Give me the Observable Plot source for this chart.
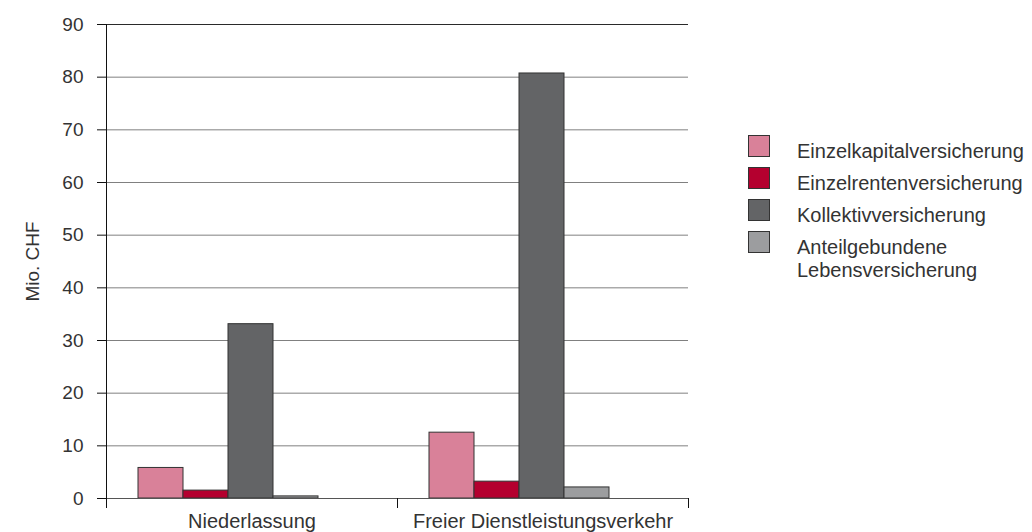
<!DOCTYPE html>
<html>
<head>
<meta charset="utf-8">
<script src="https://cdn.jsdelivr.net/npm/d3@7"></script>
<script src="https://cdn.jsdelivr.net/npm/@observablehq/plot@0.6"></script>
<style>
  body { margin: 0; background: #fff; font-family: "Liberation Sans", Arial, sans-serif; }
  #wrap { position: relative; width: 1032px; height: 532px; overflow: hidden; }
  #chart { position: absolute; left: 0; top: 0; }
  #legend { position: absolute; left: 748px; top: 135px; font-size: 20px; color: #333; }
  .row { position: relative; height: 32px; }
  .sw { position: absolute; left: 0; top: 0; width: 22px; height: 22px; box-sizing: border-box; border: 1px solid #333; }
  .lab { position: absolute; left: 49px; top: 5px; line-height: 23px; white-space: pre; }
</style>
</head>
<body>
<div id="wrap">
  <div id="chart"></div>
  <div id="legend"></div>
</div>
<script>
const categories = ["Niederlassung", "Freier Dienstleistungsverkehr"];
const series = ["Einzelkapitalversicherung", "Einzelrentenversicherung", "Kollektivversicherung", "Anteilgebundene Lebensversicherung"];
const legendLabels = ["Einzelkapitalversicherung", "Einzelrentenversicherung", "Kollektivversicherung", "Anteilgebundene\nLebensversicherung"];
const niederlassung = [5.8, 1.5, 33.1, 0.4];
const freierDienstleistungsverkehr = [12.5, 3.2, 80.7, 2.1];
const colors = ["#d98199", "#b4002f", "#636466", "#9c9d9f"];
const yTicks = [0, 10, 20, 30, 40, 50, 60, 70, 80, 90];
const yLabel = "Mio. CHF";

const valuesByCategory = [niederlassung, freierDienstleistungsverkehr];
const data = categories.flatMap((c, i) => series.map((s, j) => ({category: c, series: s, value: valuesByCategory[i][j]})));

const chart = Plot.plot({
  width: 700,
  height: 532,
  marginLeft: 105,
  marginRight: 12,
  marginTop: 24,
  marginBottom: 34,
  style: {fontFamily: '"Liberation Sans", Arial, sans-serif', fontSize: "19px", color: "#333", background: "transparent"},
  fx: {domain: categories, padding: 0, label: null, axis: null},
  x: {domain: series, paddingInner: 0, paddingOuter: 1.22, align: 0.29, axis: null},
  y: {domain: [yTicks[0], yTicks[yTicks.length - 1]], axis: null},
  color: {domain: series, range: colors},
  marks: [
    Plot.gridY(yTicks.slice(0, -1), {stroke: "#808080", strokeOpacity: 1, strokeWidth: 1}),
    Plot.gridY(yTicks.slice(-1), {stroke: "#2a2a2a", strokeOpacity: 1, strokeWidth: 1}),
    Plot.barY(data, {fx: "category", x: "series", y: "value", fill: "series", stroke: "#333", strokeWidth: 1}),
    Plot.ruleY([0], {stroke: "#555"}),
    Plot.axisY(yTicks, {tickSize: 9, tickPadding: 14, stroke: "#111", label: yLabel, labelAnchor: "center", labelArrow: "none", labelOffset: 81, fill: "#333"}),
    Plot.axisFx({anchor: "bottom", tickSize: 0, tickPadding: 15, label: null, fill: "#333", fontSize: "20px"})
  ]
});

// y-axis line and category boundary ticks, placed with Plot's own scales
const fx = chart.scale("fx");
const y = chart.scale("y");
const svg = d3.select(chart);
const bounds = categories.map(c => fx.apply(c)).concat([fx.apply(categories[categories.length - 1]) + fx.bandwidth]);
const y0 = y.apply(yTicks[0]);
const yTop = y.apply(yTicks[yTicks.length - 1]);
const g = svg.append("g").attr("stroke", "#111").attr("stroke-width", 1);
g.append("line").attr("x1", bounds[0] + 0.5).attr("x2", bounds[0] + 0.5).attr("y1", yTop).attr("y2", y0 + 10);
g.selectAll("line.b").data(bounds.slice(1)).join("line").attr("class", "b")
  .attr("x1", d => Math.round(d) + 0.5).attr("x2", d => Math.round(d) + 0.5).attr("y1", y0).attr("y2", y0 + 10);

document.getElementById("chart").appendChild(chart);

const legend = d3.select("#legend");
const rows = legend.selectAll("div.row").data(series).join("div").attr("class", "row");
rows.append("div").attr("class", "sw").style("background", (d, i) => colors[i]);
rows.append("div").attr("class", "lab").text((d, i) => legendLabels[i]);
</script>
</body>
</html>
